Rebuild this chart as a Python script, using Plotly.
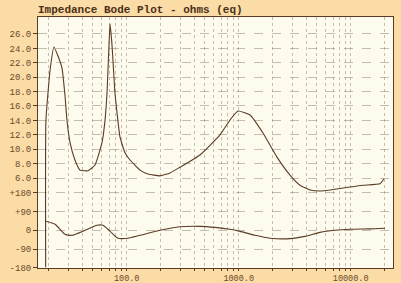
import plotly.graph_objects as go

# Impedance magnitude (ohms)
imp_freq = [18.9, 19.0, 20.7, 22.4, 24.4, 26.4, 28.1, 29.3, 31.2, 34.5, 38.3, 45.1, 52.1, 60.2,
            64.0, 66.7, 69.5, 71.0, 73.9, 78.6, 87.1, 96.6, 107, 131.5, 155, 198, 244, 299,
            451, 681, 836, 986, 1262, 1648, 2198, 2872, 3525, 4334, 5323, 6535, 9863, 12890,
            18270, 19830]
imp_ohms = [-6.4, 14.0, 21.0, 24.2, 22.9, 21.3, 17.5, 14.0, 10.9, 8.5, 7.1, 7.0, 7.8, 10.9,
            14.0, 17.8, 24.5, 27.4, 24.5, 17.8, 11.7, 9.5, 8.5, 7.1, 6.55, 6.3, 6.7, 7.5,
            9.2, 12.0, 14.05, 15.3, 14.75, 12.25, 8.9, 6.4, 5.0, 4.33, 4.2, 4.33, 4.75, 5.0,
            5.2, 5.9]

# Phase (degrees)
ph_freq = [19.0, 22.9, 28.1, 32.5, 42.4, 54.3, 61.4, 71.0, 83.6, 102.7, 131.5, 198, 299, 451,
           614, 836, 1027, 1400, 1903, 2872, 3908, 5323, 7245, 9863, 14870, 20270]
ph_deg = [43, 29, -19, -24, 0, 24, 24, -5, -38, -38, -24, 0, 17, 19,
          14, 5, -5, -24, -38, -40, -29, -10, 0, 5, 7, 10]

x_tickvals = [20, 30, 40, 50, 60, 70, 80, 90, 100, 200, 300, 400, 500, 600, 700, 800, 900,
              1000, 2000, 3000, 4000, 5000, 6000, 7000, 8000, 9000, 10000, 20000]
x_ticktext = ["100.0" if v == 100 else "1000.0" if v == 1000 else "10000.0" if v == 10000 else ""
              for v in x_tickvals]
imp_ticks = [6, 8, 10, 12, 14, 16, 18, 20, 22, 24, 26]
imp_ticktext = ["%.1f" % v for v in imp_ticks]
ph_ticks = [-180, -90, 0, 90, 180]
ph_ticktext = ["-180", "-90", "0", "+90", "+180"]

title_text = "Impedance Bode Plot - ohms (eq)"

ink = "#5a3c24"
grid = "rgba(130,115,95,0.45)"
font = dict(family="Liberation Mono", size=9, color="#6b4a2a")
xfont = dict(family="Liberation Mono", size=8.5, color="#6b4a2a")

fig = go.Figure()
fig.add_trace(go.Scatter(x=imp_freq, y=imp_ohms, mode="lines", yaxis="y",
                         line=dict(color=ink, width=1.1, shape="spline", smoothing=0.4),
                         showlegend=False))
fig.add_trace(go.Scatter(x=ph_freq, y=ph_deg, mode="lines", yaxis="y2",
                         line=dict(color=ink, width=1.1, shape="spline", smoothing=0.6),
                         showlegend=False))

fig.update_layout(
    width=401, height=283,
    margin=dict(l=38, r=8, t=17, b=15),
    paper_bgcolor="#fbdba6",
    plot_bgcolor="#fdfaee",
    title=dict(text=title_text, x=38 / 401, xanchor="left", y=(283 - 9) / 283,
               yanchor="middle", yref="container",
               font=dict(family="Liberation Mono", size=11, color="#4a3018", weight="bold")),
    font=font,
    xaxis=dict(type="log", range=[1.208, 4.378], tickvals=x_tickvals, ticktext=x_ticktext,
               showgrid=True, gridcolor=grid, griddash="dot", gridwidth=1,
               ticks="outside", ticklen=2, tickcolor=ink, automargin=False,
               showline=True, linecolor=ink, linewidth=1.2, mirror=True,
               zeroline=False, tickfont=xfont),
    yaxis=dict(range=[-6.5, 28.36], tickvals=imp_ticks, ticktext=imp_ticktext,
               showgrid=True, gridcolor=grid, griddash="dash", gridwidth=1,
               ticks="outside", ticklen=4, tickcolor=ink, automargin=False,
               showline=True, linecolor=ink, linewidth=1.2, mirror=True,
               zeroline=False, tickfont=font),
    yaxis2=dict(range=[-181, 1024], tickvals=ph_ticks, ticktext=ph_ticktext,
                overlaying="y", side="left", anchor="x", automargin=False,
                showgrid=True, gridcolor=grid, griddash="dash", gridwidth=1,
                ticks="outside", ticklen=4, tickcolor=ink,
                showline=False, zeroline=False, tickfont=font),
)

fig.write_html("out.html", config={"displayModeBar": False},
               post_script="document.body.style.margin='0';")
